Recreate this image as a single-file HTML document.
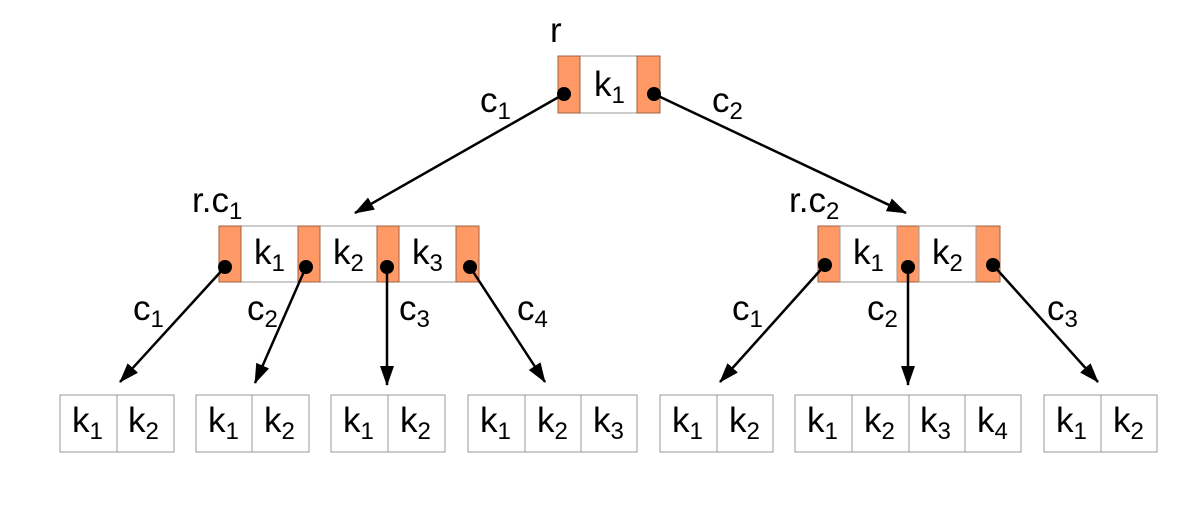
<!DOCTYPE html>
<html><head><style>body{margin:0;background:#fff}svg{display:block}text{font-family:"Liberation Sans",Arial,sans-serif;font-size:35px;fill:#000}.s{font-size:24px}</style></head><body>
<svg width="1195" height="509" viewBox="0 0 1195 509">
<defs>
<marker id="b" viewBox="0 0 20 14" refX="19" refY="7" markerWidth="20" markerHeight="14" orient="auto" markerUnits="userSpaceOnUse"><path d="M0,0L20,7L0,14z" fill="#000"/></marker></defs>
<g stroke="#999" stroke-width="1" fill="#fff">
<rect x="558" y="56" width="102" height="57"/>
<rect x="558" y="56" width="22" height="57" fill="#ff9966" stroke="#a0603f"/><rect x="637" y="56" width="23" height="57" fill="#ff9966" stroke="#a0603f"/>
<rect x="219" y="226" width="260" height="56"/>
<g fill="#ff9966" stroke="#a0603f"><rect x="219" y="226" width="22" height="56"/><rect x="298" y="226" width="22" height="56"/><rect x="377" y="226" width="22" height="56"/><rect x="456" y="226" width="23" height="56"/>
<rect x="818" y="226" width="22" height="56"/><rect x="897" y="226" width="22" height="56"/><rect x="976" y="226" width="24" height="56"/></g>
<rect x="840" y="226" width="57" height="56"/><rect x="919" y="226" width="57" height="56"/>
<rect x="60" y="395" width="114" height="57"/><line x1="117" y1="395" x2="117" y2="452"/>
<rect x="196" y="395" width="113" height="57"/><line x1="252" y1="395" x2="252" y2="452"/>
<rect x="331" y="395" width="114" height="57"/><line x1="388" y1="395" x2="388" y2="452"/>
<rect x="468" y="395" width="169" height="57"/><line x1="525" y1="395" x2="525" y2="452"/><line x1="581" y1="395" x2="581" y2="452"/>
<rect x="660" y="395" width="113" height="57"/><line x1="717" y1="395" x2="717" y2="452"/>
<rect x="795" y="395" width="226" height="57"/><line x1="852" y1="395" x2="852" y2="452"/><line x1="909" y1="395" x2="909" y2="452"/><line x1="965" y1="395" x2="965" y2="452"/>
<rect x="1044" y="395" width="113" height="57"/><line x1="1101" y1="395" x2="1101" y2="452"/>
</g>
<g stroke="#000" stroke-width="2.5" marker-end="url(#b)">
<line x1="564" y1="94" x2="355" y2="213"/><line x1="654" y1="94" x2="906" y2="213"/>
<line x1="225" y1="267" x2="120" y2="382"/><line x1="306" y1="267" x2="255" y2="383"/><line x1="387" y1="267" x2="387" y2="385"/><line x1="470" y1="267" x2="545" y2="382"/>
<line x1="825" y1="265" x2="720" y2="382"/><line x1="908" y1="267" x2="908" y2="385"/><line x1="993" y1="265" x2="1098" y2="382"/>
</g>
<g fill="#000"><circle cx="564" cy="94" r="7"/><circle cx="654" cy="94" r="7"/>
<circle cx="225" cy="267" r="7"/><circle cx="306" cy="267" r="7"/><circle cx="387" cy="267" r="7"/><circle cx="470" cy="267" r="7"/>
<circle cx="825" cy="265" r="7"/><circle cx="908" cy="267" r="7"/><circle cx="993" cy="265" r="7"/></g>
<text x="550" y="42">r</text>
<text x="594" y="96">k<tspan class="s" dy="7">1</tspan></text>
<text x="480" y="112">c<tspan class="s" dy="7">1</tspan></text>
<text x="712" y="112">c<tspan class="s" dy="7">2</tspan></text>
<text x="192" y="212">r.c<tspan class="s" dy="7">1</tspan></text>
<text x="789" y="212">r.c<tspan class="s" dy="7">2</tspan></text>
<text x="254" y="264">k<tspan class="s" dy="7">1</tspan></text>
<text x="333" y="264">k<tspan class="s" dy="7">2</tspan></text>
<text x="412" y="264">k<tspan class="s" dy="7">3</tspan></text>
<text x="853" y="264">k<tspan class="s" dy="7">1</tspan></text>
<text x="932" y="264">k<tspan class="s" dy="7">2</tspan></text>
<text x="133" y="320">c<tspan class="s" dy="7">1</tspan></text>
<text x="247" y="320">c<tspan class="s" dy="7">2</tspan></text>
<text x="399" y="320">c<tspan class="s" dy="7">3</tspan></text>
<text x="517" y="320">c<tspan class="s" dy="7">4</tspan></text>
<text x="732" y="320">c<tspan class="s" dy="7">1</tspan></text>
<text x="867" y="320">c<tspan class="s" dy="7">2</tspan></text>
<text x="1047" y="320">c<tspan class="s" dy="7">3</tspan></text>
<g>
<text x="72" y="432">k<tspan class="s" dy="7">1</tspan></text><text x="128" y="432">k<tspan class="s" dy="7">2</tspan></text>
<text x="208" y="432">k<tspan class="s" dy="7">1</tspan></text><text x="264" y="432">k<tspan class="s" dy="7">2</tspan></text>
<text x="343" y="432">k<tspan class="s" dy="7">1</tspan></text><text x="400" y="432">k<tspan class="s" dy="7">2</tspan></text>
<text x="480" y="432">k<tspan class="s" dy="7">1</tspan></text><text x="537" y="432">k<tspan class="s" dy="7">2</tspan></text><text x="593" y="432">k<tspan class="s" dy="7">3</tspan></text>
<text x="672" y="432">k<tspan class="s" dy="7">1</tspan></text><text x="729" y="432">k<tspan class="s" dy="7">2</tspan></text>
<text x="807" y="432">k<tspan class="s" dy="7">1</tspan></text><text x="864" y="432">k<tspan class="s" dy="7">2</tspan></text><text x="920" y="432">k<tspan class="s" dy="7">3</tspan></text><text x="977" y="432">k<tspan class="s" dy="7">4</tspan></text>
<text x="1056" y="432">k<tspan class="s" dy="7">1</tspan></text><text x="1113" y="432">k<tspan class="s" dy="7">2</tspan></text>
</g>
</svg>
</body></html>
